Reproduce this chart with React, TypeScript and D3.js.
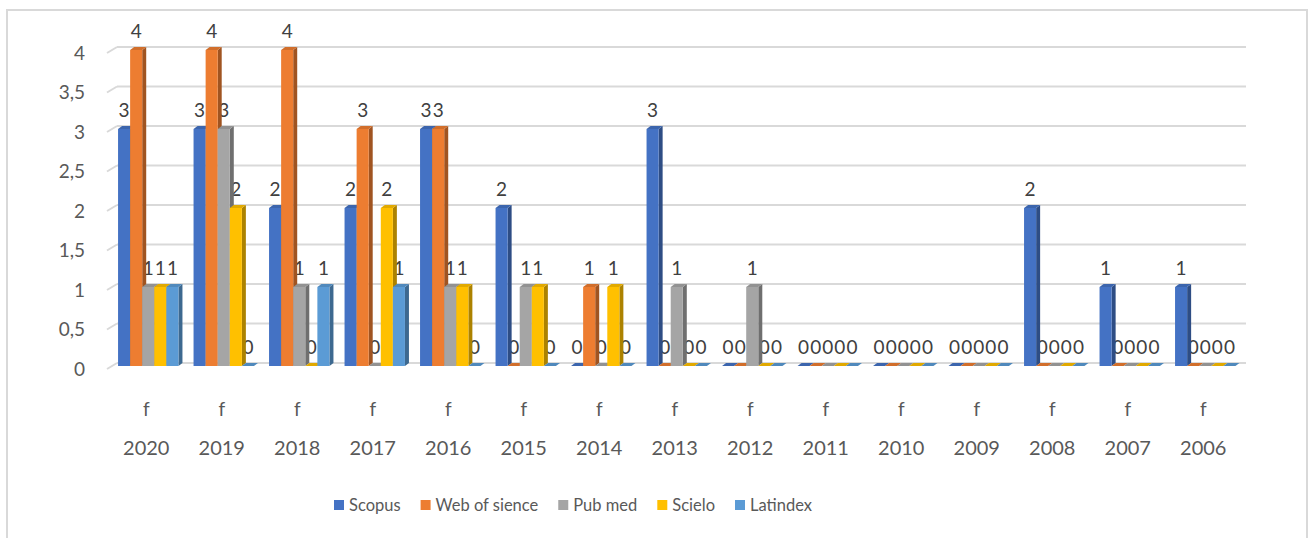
import React, { useEffect, useRef } from "react";
import * as d3 from "d3";

const years = ["2020", "2019", "2018", "2017", "2016", "2015", "2014", "2013", "2012", "2011", "2010", "2009", "2008", "2007", "2006"];
const seriesNames = ["Scopus", "Web of sience", "Pub med", "Scielo", "Latindex"];
const seriesColors = ["#4472C4", "#ED7D31", "#A5A5A5", "#FFC000", "#5B9BD5"];

const scopus = [3, 3, 2, 2, 3, 2, 0, 3, 0, 0, 0, 0, 2, 1, 1];
const webOfScience = [4, 4, 4, 3, 3, 0, 1, 0, 0, 0, 0, 0, 0, 0, 0];
const pubMed = [1, 3, 1, 0, 1, 1, 0, 1, 1, 0, 0, 0, 0, 0, 0];
const scielo = [1, 2, 0, 2, 1, 1, 1, 0, 0, 0, 0, 0, 0, 0, 0];
const latindex = [1, 0, 1, 1, 0, 0, 0, 0, 0, 0, 0, 0, 0, 0, 0];

const yTicks = [0, 0.5, 1, 1.5, 2, 2.5, 3, 3.5, 4];

const FONT = "Lato, 'Open Sans', sans-serif";

const App = () => {
  const ref = useRef<SVGSVGElement>(null);

  useEffect(() => {
    const width = 1312;
    const height = 538;
    const svg = d3.select(ref.current);
    svg.selectAll("*").remove();
    svg.attr("width", width).attr("height", height);

    const values = [scopus, webOfScience, pubMed, scielo, latindex];

    // 3D look: depth offset of the bars and of the floor
    const dx = 4;
    const dy = 3;
    const wallDx = 10;
    const wallDy = 6;

    const x = d3.scaleBand().domain(years).range([110.5, 1243]).paddingInner(0.2).paddingOuter(0.1);
    const xs = d3.scaleBand().domain(seriesNames).range([0, x.bandwidth()]);
    const y = d3.scaleLinear().domain([0, 4]).range([366, 50]);

    const fmt = (v: number) => String(v).replace(".", ",");

    // chart border
    svg
      .append("rect")
      .attr("x", 7)
      .attr("y", 10)
      .attr("width", 1300)
      .attr("height", 540)
      .attr("fill", "white")
      .attr("stroke", "#D9D9D9")
      .attr("stroke-width", 2);

    const xStart = 117;
    const xEnd = 1246;

    // gridlines on back wall + slanted stubs
    const grid = svg.append("g");
    yTicks.forEach((t) => {
      const yy = y(t) - dy;
      grid
        .append("line")
        .attr("x1", xStart)
        .attr("x2", xEnd)
        .attr("y1", yy)
        .attr("y2", yy)
        .attr("stroke", "#D9D9D9")
        .attr("stroke-width", 2);
      grid
        .append("line")
        .attr("x1", xStart - wallDx)
        .attr("y1", yy + wallDy)
        .attr("x2", xStart)
        .attr("y2", yy)
        .attr("stroke", "#D9D9D9")
        .attr("stroke-width", 2);
    });

    // y labels
    svg
      .append("g")
      .selectAll("text")
      .data(yTicks)
      .enter()
      .append("text")
      .attr("x", 85)
      .attr("y", (d) => y(d) + 3)
      .attr("dy", "0.35em")
      .attr("text-anchor", "end")
      .attr("font-family", FONT)
      .attr("font-size", 19)
      .attr("fill", "#595959")
      .text((d) => fmt(d));

    // data labels (behind bars)
    const labels = svg.append("g");
    const bars = svg.append("g");

    years.forEach((yr, i) => {
      seriesNames.forEach((s, j) => {
        const v = values[j][i];
        const x0 = (x(yr) ?? 0) + (xs(s) ?? 0);
        const w = xs.bandwidth();
        labels
          .append("text")
          .attr("x", x0 + w / 2)
          .attr("y", y(v) - 19)
          .attr("dy", "0.35em")
          .attr("text-anchor", "middle")
          .attr("font-family", FONT)
          .attr("font-size", 19)
          .attr("fill", "#404040")
          .text(v);
      });
    });

    years.forEach((yr, i) => {
      seriesNames.forEach((s, j) => {
        const v = values[j][i];
        const x0 = (x(yr) ?? 0) + (xs(s) ?? 0);
        const w = xs.bandwidth();
        const top = y(v);
        const bottom = y(0);
        const c = d3.color(seriesColors[j])!;
        const g = bars.append("g");
        // side face
        g.append("path")
          .attr("d", `M${x0 + w},${top} L${x0 + w + dx},${top - dy} L${x0 + w + dx},${bottom - dy} L${x0 + w},${bottom} Z`)
          .attr("fill", c.darker(1.1).toString());
        // front face
        g.append("rect")
          .attr("x", x0)
          .attr("y", top)
          .attr("width", w)
          .attr("height", bottom - top)
          .attr("fill", seriesColors[j]);
        // top face
        g.append("path")
          .attr("d", `M${x0},${top} L${x0 + dx},${top - dy} L${x0 + w + dx},${top - dy} L${x0 + w},${top} Z`)
          .attr("fill", c.darker(0.35).toString());
      });
    });

    // category labels
    const cat = svg.append("g");
    years.forEach((yr) => {
      const cx = (x(yr) ?? 0) + x.bandwidth() / 2 - 2;
      cat
        .append("text")
        .attr("x", cx)
        .attr("y", 409)
        .attr("dy", "0.35em")
        .attr("text-anchor", "middle")
        .attr("font-family", FONT)
        .attr("font-size", 19)
        .attr("fill", "#595959")
        .text("f");
      cat
        .append("text")
        .attr("x", cx)
        .attr("y", 448)
        .attr("dy", "0.35em")
        .attr("text-anchor", "middle")
        .attr("font-family", FONT)
        .attr("font-size", 20)
        .attr("fill", "#595959")
        .text(yr);
    });

    // legend
    const legend = svg.append("g");
    let lx = 334;
    seriesNames.forEach((s, j) => {
      legend
        .append("rect")
        .attr("x", lx)
        .attr("y", 500)
        .attr("width", 10)
        .attr("height", 10)
        .attr("fill", seriesColors[j]);
      const t = legend
        .append("text")
        .attr("x", lx + 15)
        .attr("y", 505)
        .attr("dy", "0.35em")
        .attr("font-family", FONT)
        .attr("font-size", 16.5)
        .attr("fill", "#595959")
        .text(s);
      const tw = (t.node() as SVGTextElement).getComputedTextLength();
      lx += 15 + tw + 20;
    });
  }, []);

  return (
    <div style={{ position: "absolute", left: 0, top: 0 }}>
      <svg ref={ref} />
    </div>
  );
};

export default App;
